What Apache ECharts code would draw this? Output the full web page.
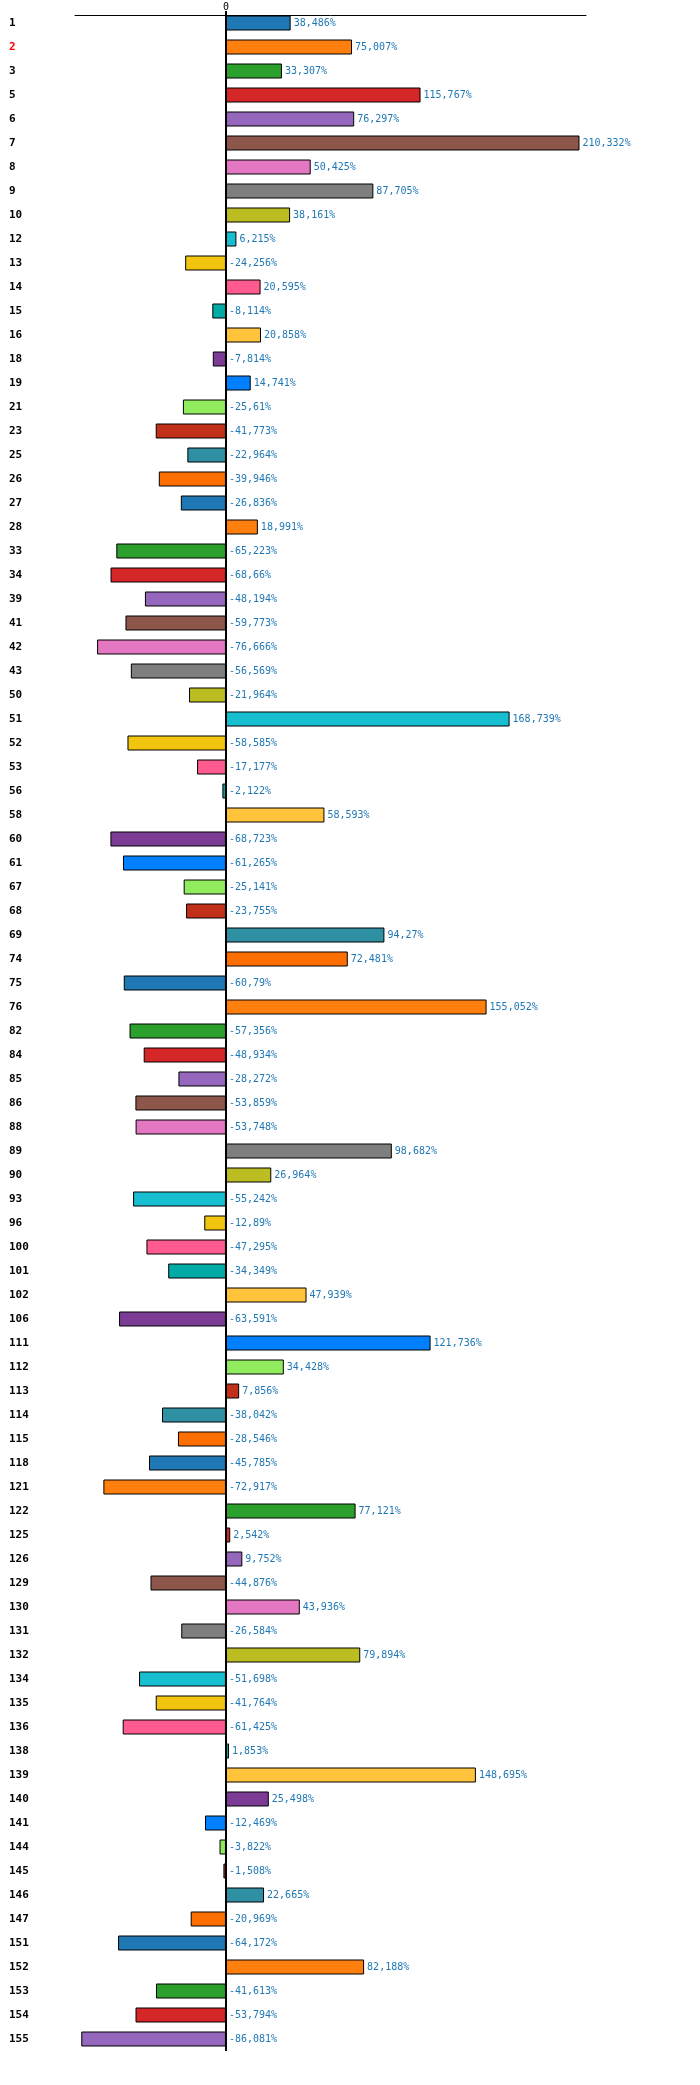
<!DOCTYPE html>
<html>
<head>
<meta charset="utf-8">
<title>chart</title>
<script src="https://cdn.jsdelivr.net/npm/echarts@6/dist/echarts.min.js"></script>
<style>
    html, body { margin: 0; padding: 0; background: #fff; }
    #chart { width: 700px; height: 2085px; }
</style>
</head>
<body>
<div id="chart"></div>
<script>
var categories = [
    '1', '2', '3', '5', '6', '7', '8', '9', '10', '12',
    '13', '14', '15', '16', '18', '19', '21', '23', '25', '26',
    '27', '28', '33', '34', '39', '41', '42', '43', '50', '51',
    '52', '53', '56', '58', '60', '61', '67', '68', '69', '74',
    '75', '76', '82', '84', '85', '86', '88', '89', '90', '93',
    '96', '100', '101', '102', '106', '111', '112', '113', '114', '115',
    '118', '121', '122', '125', '126', '129', '130', '131', '132', '134',
    '135', '136', '138', '139', '140', '141', '144', '145', '146', '147',
    '151', '152', '153', '154', '155'
];

var values = [
    38.486, 75.007, 33.307, 115.767, 76.297, 210.332, 50.425, 87.705, 38.161, 6.215,
    -24.256, 20.595, -8.114, 20.858, -7.814, 14.741, -25.61, -41.773, -22.964, -39.946,
    -26.836, 18.991, -65.223, -68.66, -48.194, -59.773, -76.666, -56.569, -21.964, 168.739,
    -58.585, -17.177, -2.122, 58.593, -68.723, -61.265, -25.141, -23.755, 94.27, 72.481,
    -60.79, 155.052, -57.356, -48.934, -28.272, -53.859, -53.748, 98.682, 26.964, -55.242,
    -12.89, -47.295, -34.349, 47.939, -63.591, 121.736, 34.428, 7.856, -38.042, -28.546,
    -45.785, -72.917, 77.121, 2.542, 9.752, -44.876, 43.936, -26.584, 79.894, -51.698,
    -41.764, -61.425, 1.853, 148.695, 25.498, -12.469, -3.822, -1.508, 22.665, -20.969,
    -64.172, 82.188, -41.613, -53.794, -86.081
];

// the bars cycle through these 20 colours
var palette = [
    '#1f77b4', '#ff7f0e', '#2ca02c', '#d62728', '#9467bd',
    '#8c564b', '#e377c2', '#7f7f7f', '#bcbd22', '#17becf',
    '#f1c40f', '#ff5b8e', '#00aaa5', '#ffc33c', '#7c3c95',
    '#0080ff', '#90ec5e', '#c3301a', '#2e90a2', '#ff6f00'
];

var highlighted = ['2'];

(function () {
    var chart = echarts.init(document.getElementById('chart'));

    var option = {
        backgroundColor: '#fff',
        animation: false,
        grid: {
            left: 75,
            width: 511,
            top: 11,
            height: 2040
        },
        xAxis: {
            type: 'value',
            position: 'top',
            offset: -4,
            min: -89.8,
            max: 214.2,
            splitLine: { show: false },
            axisTick: { show: false },
            axisLine: {
                show: true,
                lineStyle: { color: '#000', width: 1 }
            },
            axisLabel: {
                margin: 3,
                fontFamily: 'DejaVu Sans Mono',
                fontSize: 10,
                color: '#000',
                showMinLabel: false,
                showMaxLabel: false,
                formatter: function (v) {
                    return v === 0 ? '0' : '';
                }
            }
        },
        yAxis: {
            type: 'category',
            inverse: true,
            data: categories,
            axisLine: { show: false, onZero: false },
            axisTick: { show: false },
            splitLine: { show: false },
            axisLabel: {
                interval: 0,
                align: 'left',
                margin: 66,
                fontFamily: 'DejaVu Sans Mono',
                fontWeight: 'bold',
                fontSize: 11,
                color: function (value) {
                    return highlighted.indexOf(value) >= 0 ? '#ff0000' : '#000';
                }
            }
        },
        series: [
            {
                type: 'bar',
                data: values,
                barWidth: 15,
                itemStyle: {
                    borderColor: '#000',
                    borderWidth: 1,
                    color: function (params) {
                        return palette[params.dataIndex % palette.length];
                    }
                },
                label: {
                    show: true,
                    position: 'right',
                    distance: 3,
                    fontFamily: 'DejaVu Sans Mono',
                    fontSize: 10,
                    color: '#1f77b4',
                    formatter: function (params) {
                        return String(params.value).replace('.', ',') + '%';
                    }
                },
                markLine: {
                    silent: true,
                    symbol: 'none',
                    label: { show: false },
                    lineStyle: { color: '#000', width: 2, type: 'solid' },
                    data: [{ xAxis: 0 }]
                }
            }
        ]
    };

    chart.setOption(option);
})();
</script>
</body>
</html>
